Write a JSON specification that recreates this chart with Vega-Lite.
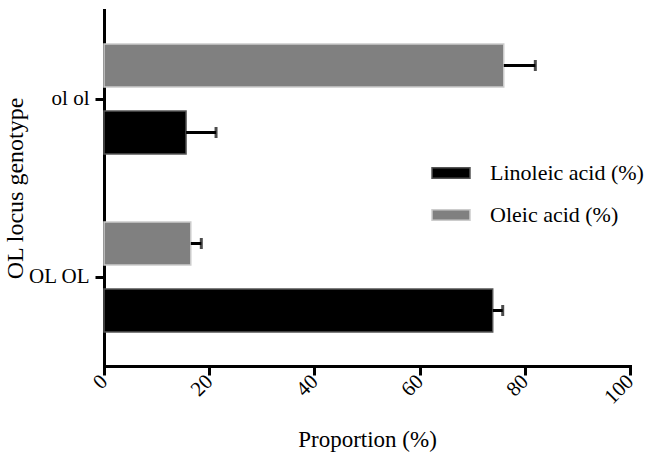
{
  "$schema": "https://vega.github.io/schema/vega-lite/v6.json",
  "width": 526,
  "height": 356,
  "autosize": {"type": "none"},
  "padding": {"left": 104, "top": 10, "right": 19, "bottom": 89},
  "background": "white",
  "config": {
    "view": {"stroke": null},
    "font": "Liberation Serif",
    "axis": {
      "domainColor": "black",
      "domainWidth": 3,
      "domainCap": "square",
      "tickColor": "black",
      "tickWidth": 3,
      "tickSize": 9,
      "grid": false,
      "labelColor": "black",
      "titleColor": "black",
      "titleFontWeight": "normal",
      "labelFont": "Liberation Serif",
      "titleFont": "Liberation Serif"
    },
    "legend": {
      "orient": "none",
      "legendX": 327,
      "legendY": 143,
      "title": null,
      "symbolType": "M-1,-0.27H1V0.27H-1Z",
      "symbolSize": 1444,
      "labelFontSize": 22,
      "labelFont": "Liberation Serif",
      "labelColor": "black",
      "labelOffset": 19,
      "rowPadding": 11,
      "symbolStrokeWidth": 1.5,
      "labelLimit": 400
    }
  },
  "data": {
    "values": [
      {"genotype": "ol ol", "acid": "Oleic acid (%)", "value": 76.0, "upper": 82.0},
      {"genotype": "ol ol", "acid": "Linoleic acid (%)", "value": 15.6, "upper": 21.3},
      {"genotype": "OL OL", "acid": "Oleic acid (%)", "value": 16.5, "upper": 18.5},
      {"genotype": "OL OL", "acid": "Linoleic acid (%)", "value": 73.9, "upper": 75.8}
    ]
  },
  "encoding": {
    "y": {
      "field": "genotype",
      "type": "nominal",
      "title": "OL locus genotype",
      "scale": {"domain": ["ol ol", "OL OL"], "paddingInner": 0, "paddingOuter": 0},
      "axis": {
        "labelFontSize": 21,
        "labelPadding": 6,
        "titleFontSize": 24,
        "titleX": -82,
        "titleY": 178,
        "titleBaseline": "alphabetic",
        "titleAlign": "center"
      }
    },
    "yOffset": {
      "field": "acid",
      "type": "nominal",
      "scale": {"domain": ["Oleic acid (%)", "Linoleic acid (%)"], "paddingInner": 0.358, "paddingOuter": 0.507}
    }
  },
  "layer": [
    {
      "mark": {"type": "bar", "strokeWidth": 1.5},
      "encoding": {
        "x": {
          "field": "value",
          "type": "quantitative",
          "title": "Proportion (%)",
          "scale": {"domain": [0, 100], "nice": false},
          "axis": {
            "values": [0, 20, 40, 60, 80, 100],
            "labelAngle": -45,
            "labelAlign": "right",
            "labelBaseline": "middle",
            "labelFontSize": 21,
            "labelPadding": 3,
            "labelFlush": false,
            "labelOverlap": false,
            "titleFontSize": 23,
            "titleY": 80,
            "titleBaseline": "alphabetic"
          }
        },
        "color": {
          "field": "acid",
          "type": "nominal",
          "scale": {"domain": ["Linoleic acid (%)", "Oleic acid (%)"], "range": ["#000000", "#808080"]}
        },
        "stroke": {
          "field": "acid",
          "type": "nominal",
          "scale": {"domain": ["Linoleic acid (%)", "Oleic acid (%)"], "range": ["#555555", "#cccccc"]}
        }
      }
    },
    {
      "mark": {"type": "rule", "color": "black", "strokeWidth": 3},
      "encoding": {
        "x": {"field": "value", "type": "quantitative"},
        "x2": {"field": "upper"}
      }
    },
    {
      "mark": {"type": "tick", "color": "black", "thickness": 3, "size": 11, "orient": "vertical"},
      "encoding": {
        "x": {"field": "upper", "type": "quantitative"}
      }
    }
  ]
}
